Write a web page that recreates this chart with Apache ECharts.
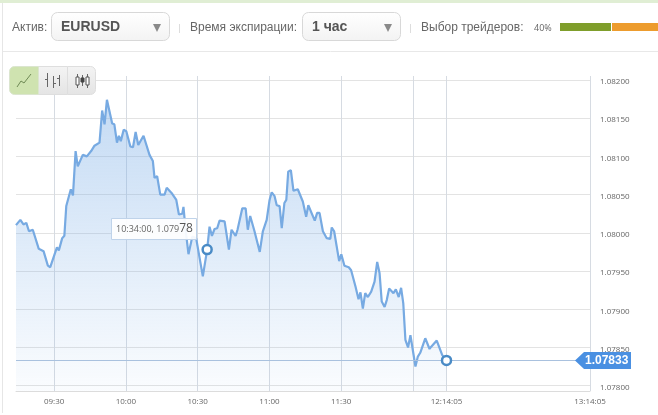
<!DOCTYPE html>
<html><head><meta charset="utf-8">
<style>html,body{margin:0;padding:0;background:#fff}#c{width:658px;height:415px}</style>
<script src="https://cdn.jsdelivr.net/npm/echarts@6/dist/echarts.min.js"></script>
</head><body><div id="c"></div>
<script>
// minutes after 09:00
const minutes=[14.08,15.9,17.2,18.4,19.5,21.1,23.6,25.6,27.4,28.4,31.2,32,33.4,34.3,35.1,37,37.9,39,39.9,42,43.7,45.5,46.9,49,50.1,51.1,52.1,54.3,55.2,56.3,57.1,57.9,59.1,60.2,61.9,63,64.1,65.2,67.4,69.9,71.3,72,73.1,74.4,76.2,77.1,79.4,81.1,82.2,83.6,84.1,85,86.2,87.8,89.4,92.2,93,94,95,96,97.1,98.2,99.2,101.3,103.1,104.2,105.9,106.7,108.7,110.1,111,112,113.8,116,117.3,118.9,120.1,121,122.2,123.1,124.3,125.2,126.3,127.1,127.9,129,130.1,131.9,134,135.4,136.3,137.1,139,140,141,142.4,144,145.5,146.1,147.1,149.2,150.1,151.4,153.2,154.2,156,157.3,158.1,159.1,160.1,161.2,162.6,164,165.1,166.1,167,168.2,169.1,170.1,171.9,172.9,174.1,175.1,176,176.9,178,179,181.1,182.1,183.1,183.9,185.2,187,187.7,190,192.3,194.08];
const prices=[1.0801,1.08017,1.08011,1.08013,1.08002,1.08004,1.07979,1.07976,1.07957,1.07955,1.07981,1.07977,1.07993,1.07996,1.08035,1.08057,1.08049,1.08107,1.08087,1.08102,1.081,1.08107,1.08114,1.08118,1.0816,1.08142,1.08174,1.08143,1.08142,1.08118,1.08127,1.0812,1.08135,1.08133,1.08113,1.08112,1.08132,1.08115,1.08127,1.08102,1.08094,1.08072,1.08074,1.0805,1.0805,1.08059,1.08051,1.08043,1.08024,1.08025,1.08034,1.08004,1.07972,1.07995,1.07993,1.07943,1.07943,1.07978,1.08008,1.07996,1.08005,1.08006,1.08016,1.08015,1.07978,1.08004,1.07996,1.08004,1.08032,1.08032,1.08004,1.08022,1.08002,1.07975,1.08002,1.08017,1.08043,1.08053,1.08048,1.08036,1.08035,1.08006,1.08039,1.08043,1.0808,1.08082,1.08055,1.08057,1.08041,1.08021,1.08036,1.08036,1.08016,1.08026,1.08026,1.08002,1.07993,1.07992,1.08007,1.08002,1.07963,1.07972,1.07957,1.07955,1.07951,1.0793,1.07913,1.07922,1.07901,1.07921,1.07916,1.07923,1.07936,1.07962,1.07947,1.0791,1.07903,1.07912,1.07927,1.07921,1.07926,1.07916,1.07928,1.07908,1.0786,1.0785,1.07866,1.07825,1.07838,1.07843,1.07845,1.07862,1.07848,1.07851,1.07859,1.0784,1.07833];
const yTicks=[1.078,1.0785,1.079,1.0795,1.08,1.0805,1.081,1.0815,1.082];
const xGridValues=[30,60,90,120,150,180,194.08,254.08];
const xLabelValues=[30,60,90,120,150,194.08,254.08];
const xLabels=['09:30','10:00','10:30','11:00','11:30','12:14:05','13:14:05'];
const hoverPoint=[94,1.07978];
const hoverText=['10:34:00, 1.079','78'];
const lastPoint=[194.08,1.07833];
const lastText='1.07833';
const traderPct='40%';

const chart=echarts.init(document.getElementById('c'),null,{renderer:'canvas'});
const F='"Liberation Sans",Arial,sans-serif';
const AX='"Open Sans","Noto Sans",sans-serif';
chart.setOption({
  animation:false,
  grid:{left:16,right:68,top:76,bottom:24},
  xAxis:{type:'value',min:14.08,max:254.08,
    axisLine:{show:true,lineStyle:{color:'#dcdcdc'}},
    axisTick:{show:false,customValues:xGridValues},
    splitLine:{show:true,lineStyle:{color:'#d6dbe2',width:1}},
    axisLabel:{customValues:xLabelValues,margin:7,fontFamily:AX,fontSize:8,color:'#666',
      formatter:v=>xLabels[xLabelValues.indexOf(v)]}},
  yAxis:{type:'value',position:'right',min:1.07793,max:1.082052,
    axisLine:{show:false},
    axisTick:{show:false,customValues:yTicks},
    splitLine:{show:true,lineStyle:{color:'#e3e3e3',width:1}},
    axisLabel:{customValues:yTicks,margin:10,color:'#666',
      rich:{t:{fontFamily:AX,fontSize:8,color:'#666',padding:[4,0,0,0]}},
      formatter:v=>'{t|'+v.toFixed(5)+'}'}},
  series:[{type:'line',data:minutes.map((m,i)=>[m,prices[i]]),symbol:'none',smooth:false,
    lineStyle:{color:'#77aae2',width:2.2},
    areaStyle:{color:new echarts.graphic.LinearGradient(0,0,0,1,[
      {offset:0,color:'rgba(120,172,230,0.62)'},
      {offset:1,color:'rgba(120,172,230,0.05)'}])},
    markLine:{silent:true,symbol:'none',precision:5,label:{show:false},
      lineStyle:{color:'#a9c1de',width:1,type:'solid'},
      data:[{yAxis:lastPoint[1]}]},
    markPoint:{silent:true,symbol:'circle',symbolSize:9,label:{show:false},
      itemStyle:{color:'#fff',borderColor:'#4a8bc6',borderWidth:2.5},
      data:[{coord:hoverPoint},{coord:lastPoint}]}
  }]
});
const py=chart.convertToPixel({gridIndex:0},[0,lastPoint[1]])[1];
const line=(x1,y1,x2,y2,c,w)=>({type:'line',shape:{x1,y1,x2,y2},style:{stroke:c,lineWidth:w||1},z:20});
const txt=(x,y,t,o)=>({type:'text',x,y,style:Object.assign({text:t,fill:'#666',font:'12px '+F,textVerticalAlign:'middle'},o||{}),z:20});
const rect=(x,y,w,h,o,r)=>({type:'rect',shape:{x,y,width:w,height:h,r:r||0},style:o,z:10});
const grad=(a,b)=>new echarts.graphic.LinearGradient(0,0,0,1,[{offset:0,color:a},{offset:1,color:b}]);
const tri=(x,y)=>({type:'polygon',shape:{points:[[x,y],[x+8,y],[x+4,y+8]]},style:{fill:'#8a8a8a'},z:20});
const g=[
  rect(0,0,658,3,{fill:'#e0eed4'}),
  line(2.5,3,2.5,413,'#e6e6e6'),
  line(3,51.5,658,51.5,'#e8e8e8'),
  txt(12,28,'Актив:'),
  rect(51.5,12.5,118,28,{fill:grad('#ffffff','#f3f3f3'),stroke:'#d8d8d8'},6),
  txt(61,27.5,'EURUSD',{font:'bold 14px '+F,fill:'#555'}),
  tri(153,24),
  line(179.5,24,179.5,33,'#dddddd'),
  txt(190,28,'Время экспирации:'),
  rect(302.5,12.5,98,28,{fill:grad('#ffffff','#f3f3f3'),stroke:'#d8d8d8'},6),
  txt(312,27.5,'1 час',{font:'bold 14px '+F,fill:'#555'}),
  tri(384,24),
  line(410.5,24,410.5,33,'#dddddd'),
  txt(421,27.5,'Выбор трейдеров:'),
  txt(534,28,traderPct,{font:'9px '+AX}),
  rect(560,23,51,8,{fill:'#7f9e2b'}),
  rect(612,23,46,8,{fill:'#ed9c2e'}),
  // chart type buttons
  rect(38.5,66.5,29,28,{fill:grad('#f4f4f4','#e4e4e4'),stroke:'#dedede'},0),
  rect(67.5,66.5,28,28,{fill:grad('#f4f4f4','#e4e4e4'),stroke:'#dedede'},[0,5,5,0]),
  rect(9.5,66.5,29,28,{fill:'#cfe3b0',stroke:'#dbe5cf'},[5,0,0,5]),
  {type:'polyline',shape:{points:[[17,87],[21,81],[24,83],[31,74]]},style:{stroke:'#6f8a55',lineWidth:1,fill:'none'},z:20},
  line(47.5,73,47.5,87,'#666'),line(53.5,76,53.5,88,'#666'),line(59.5,75,59.5,86,'#666'),
  line(45,79.5,47,79.5,'#666'),line(54,83.5,56,83.5,'#666'),line(57,78.5,59,78.5,'#666'),
  line(77.5,74,77.5,88,'#666'),line(82.5,75,82.5,86,'#666'),line(87.5,74,87.5,88,'#666'),
  Object.assign(rect(76,77,3,8,{fill:'#fff',stroke:'#555'}),{z:21}),
  Object.assign(rect(81,78,3,4,{fill:'#444',stroke:'#444'}),{z:21}),
  Object.assign(rect(86,77,3,8,{fill:'#fff',stroke:'#555'}),{z:21}),
  // hover tooltip
  rect(111.5,218.5,85,21,{fill:'rgba(255,255,255,0.92)',stroke:'#bfd3ea'}),
  {type:'text',x:116,y:229,z:21,style:{text:'{a|'+hoverText[0]+'}{b|'+hoverText[1]+'}',textVerticalAlign:'middle',
    rich:{a:{font:'9px '+AX,fill:'#666'},b:{font:'12px '+AX,fill:'#555'}}}},
  // current price tag
  {type:'polygon',shape:{points:[[575,py],[584,py-8.5],[631,py-8.5],[631,py+8.5],[584,py+8.5]]},style:{fill:'#4a90e2'},z:20},
  txt(585,py+.5,lastText,{font:'bold 12px '+F,fill:'#fff'})
];
chart.setOption({graphic:g});
</script></body></html>
